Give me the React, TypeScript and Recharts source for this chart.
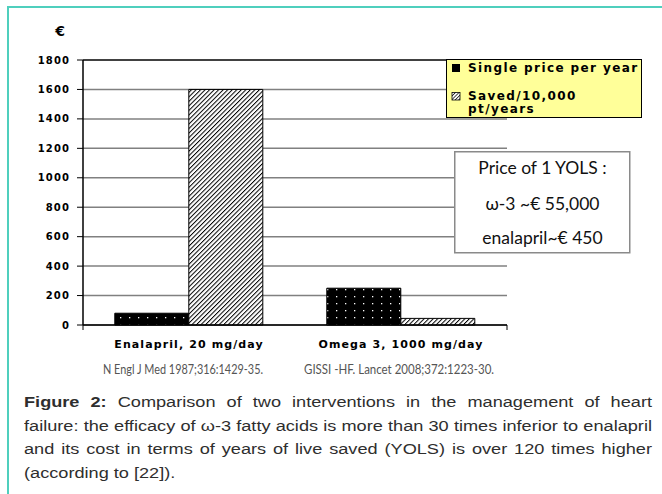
import React from 'react';
import { BarChart, Bar, XAxis, YAxis, CartesianGrid, Legend, ReferenceLine } from 'recharts';

const categories = ['Enalapril, 20 mg/day', 'Omega 3, 1000 mg/day'];
const singlePrice = [80, 250];
const savedPer10000 = [1600, 45];
const citations = ['N Engl J Med 1987;316:1429-35.', 'GISSI -HF. Lancet 2008;372:1223-30.'];
const yTicks = [0, 200, 400, 600, 800, 1000, 1200, 1400, 1600, 1800];
const seriesNames = ['Single price per year', 'Saved/10,000 pt/years'];
const priceLines = ['Price of 1 YOLS :', 'ω-3 ~€ 55,000', 'enalapril~€ 450'];
const captionLines = [
  'Comparison of two interventions in the management of heart',
  'failure: the efficacy of ω-3 fatty acids is more than 30 times inferior to enalapril',
  'and its cost in terms of years of live saved (YOLS) is over 120 times higher',
  '(according to [22]).',
];

const data = categories.map((name, i) => ({
  name,
  single: singlePrice[i],
  saved: savedPer10000[i],
  cite: citations[i],
}));

const BOLD = "'DejaVu Sans', sans-serif";
const CITE_W = [160, 190];
const CITE_DX = [-6, -2];

const YTick = (props: any) => {
  const { x, y, payload } = props;
  return (
    <text x={x} y={y} dy={3.6} textAnchor="end" fontFamily={BOLD} fontWeight="bold" fontSize={10} letterSpacing={1.1} fill="#000">
      {payload.value}
    </text>
  );
};

const CatTick = (props: any) => {
  const { x, y, payload, index } = props;
  return (
    <g>
      <text x={x} y={y + 18} textAnchor="middle" fontFamily={BOLD} fontWeight="bold" fontSize={11} letterSpacing={1.1} fill="#000">
        {payload.value}
      </text>
      <text
        x={x + CITE_DX[index]}
        y={y + 44}
        textAnchor="middle"
        fontFamily="Lato, sans-serif"
        fontSize={13}
        fill="#555"
        textLength={CITE_W[index]}
        lengthAdjust="spacingAndGlyphs"
      >
        {data[index] ? data[index].cite : ''}
      </text>
    </g>
  );
};

const LegendBox = () => (
  <svg width={196} height={59} style={{ display: 'block' }}>
    <defs>
      <pattern id="hatchLeg" width="2.5" height="2.5" patternUnits="userSpaceOnUse" patternTransform="rotate(45)">
        <rect width="2.5" height="2.5" fill="#fff" />
        <line x1="0" y1="0" x2="0" y2="2.5" stroke="#000" strokeWidth="1.4" />
      </pattern>
    </defs>
    <rect x={0.5} y={0.5} width={195} height={58} fill="#ffff99" stroke="#000" strokeWidth={1} />
    <rect x={6} y={5} width={8} height={8} fill="#000" />
    <text x={22} y={13.3} fontFamily={BOLD} fontWeight="bold" fontSize={12} letterSpacing={1.4} fill="#000">
      {seriesNames[0]}
    </text>
    <rect x={6} y={33.5} width={8} height={7.5} fill="url(#hatchLeg)" stroke="#000" strokeWidth={0.8} />
    <text x={22} y={41} fontFamily={BOLD} fontWeight="bold" fontSize={12} letterSpacing={1.4} fill="#000">
      Saved/10,000
    </text>
    <text x={22} y={53.7} fontFamily={BOLD} fontWeight="bold" fontSize={12} letterSpacing={1.4} fill="#000">
      pt/years
    </text>
  </svg>
);

const EuroLabel = (props: any) => {
  const vb = props.viewBox || { x: 23, y: 60 };
  return (
    <text x={vb.x + 37} y={vb.y - 24} textAnchor="middle" fontFamily={BOLD} fontWeight="bold" fontSize={14} fill="#000">
      €
    </text>
  );
};

const SCALE = 1.195;
const CAP_W = 628 / SCALE;

export default function App() {
  return (
    <div style={{ position: 'absolute', left: 0, top: 0, width: 662, height: 494, background: '#fff', overflow: 'hidden' }}>
      <div style={{ position: 'absolute', left: 7, top: 6, right: -5, bottom: -5, borderTop: '2px solid #4fcfbd', borderLeft: '2px solid #4fcfbd' }} />
      <div style={{ position: 'absolute', left: 0, top: 0 }}>
        <BarChart
          width={662}
          height={494}
          data={data}
          margin={{ top: 60, right: 155, left: 23, bottom: 114 }}
          barCategoryGap="15%"
          barGap={0}
        >
          <defs>
            <pattern id="dots" width="9" height="7" patternUnits="userSpaceOnUse">
              <rect width="9" height="7" fill="#000" />
              <rect x="3" y="2" width="1.3" height="1.3" fill="#fff" />
            </pattern>
            <pattern id="hatch" width="3.2" height="3.2" patternUnits="userSpaceOnUse" patternTransform="rotate(45)">
              <rect width="3.2" height="3.2" fill="#fff" />
              <line x1="0" y1="0" x2="0" y2="3.2" stroke="#000" strokeWidth="2" />
            </pattern>
          </defs>
          <CartesianGrid xAxisId="cat" vertical={false} stroke="#808080" strokeWidth={1.5} />
          <XAxis
            xAxisId={0}
            type="number"
            domain={[0, 2]}
            ticks={[0, 1, 2]}
            allowDataOverflow
            height={5}
            tickSize={5}
            tickFormatter={() => ''}
            axisLine={{ stroke: '#000', strokeWidth: 1.5 }}
            tickLine={{ stroke: '#000', strokeWidth: 1 }}
          />
          <XAxis
            xAxisId="cat"
            dataKey="name"
            height={50}
            interval={0}
            axisLine={false}
            tickLine={false}
            tickSize={0}
            tickMargin={0}
            tick={<CatTick />}
          />
          <YAxis
            domain={[0, 1800]}
            ticks={yTicks}
            interval={0}
            width={60}
            tickSize={6}
            tickMargin={7}
            axisLine={{ stroke: '#000', strokeWidth: 1.5 }}
            tickLine={{ stroke: '#000', strokeWidth: 1 }}
            tick={<YTick />}
            label={<EuroLabel />}
          />
          <YAxis
            yAxisId="r"
            orientation="right"
            domain={[0, 1800]}
            width={0}
            tick={false}
            tickLine={false}
            axisLine={{ stroke: '#666', strokeWidth: 1.5 }}
          />
          <ReferenceLine y={1800} xAxisId="cat" stroke="#222" strokeWidth={1.5} />
          <Legend
            layout="vertical"
            align="center"
            verticalAlign="middle"
            content={<LegendBox />}
            wrapperStyle={{ position: 'absolute', left: 446, top: 59, width: 196, height: 59 }}
          />
          <Bar xAxisId="cat" dataKey="single" name={seriesNames[0]} fill="url(#dots)" stroke="#000" strokeWidth={1} isAnimationActive={false} />
          <Bar xAxisId="cat" dataKey="saved" name={seriesNames[1]} fill="url(#hatch)" stroke="#000" strokeWidth={1} isAnimationActive={false} />
        </BarChart>
      </div>
      <div style={{ position: 'absolute', left: 454, top: 151 }}>
        <svg width={177} height={103} style={{ display: 'block' }}>
          <rect x={0.75} y={0.75} width={175} height={101} fill="#fff" stroke="#8a8a8a" strokeWidth={1.5} />
          {priceLines.map((t, i) => (
            <text key={i} x={88.5} y={[23, 59, 93][i]} textAnchor="middle" fontFamily="Lato, sans-serif" fontSize={17.5} fill="#111">
              {t}
            </text>
          ))}
        </svg>
      </div>
      <div
        style={{
          position: 'absolute',
          left: 24,
          top: 390,
          width: CAP_W,
          transform: `scaleX(${SCALE})`,
          transformOrigin: 'left top',
          fontFamily: "'Liberation Sans', Arial, sans-serif",
          fontSize: 15.2,
          lineHeight: '23.5px',
          color: '#2e2e2e',
        }}
      >
        {captionLines.map((line, i) => (
          <div
            key={i}
            style={{
              textAlign: i < captionLines.length - 1 ? 'justify' : 'left',
              textAlignLast: i < captionLines.length - 1 ? 'justify' : 'left',
              height: 23.5,
            }}
          >
            {i === 0 ? <b>Figure 2: </b> : null}
            {line}
          </div>
        ))}
      </div>
    </div>
  );
}
